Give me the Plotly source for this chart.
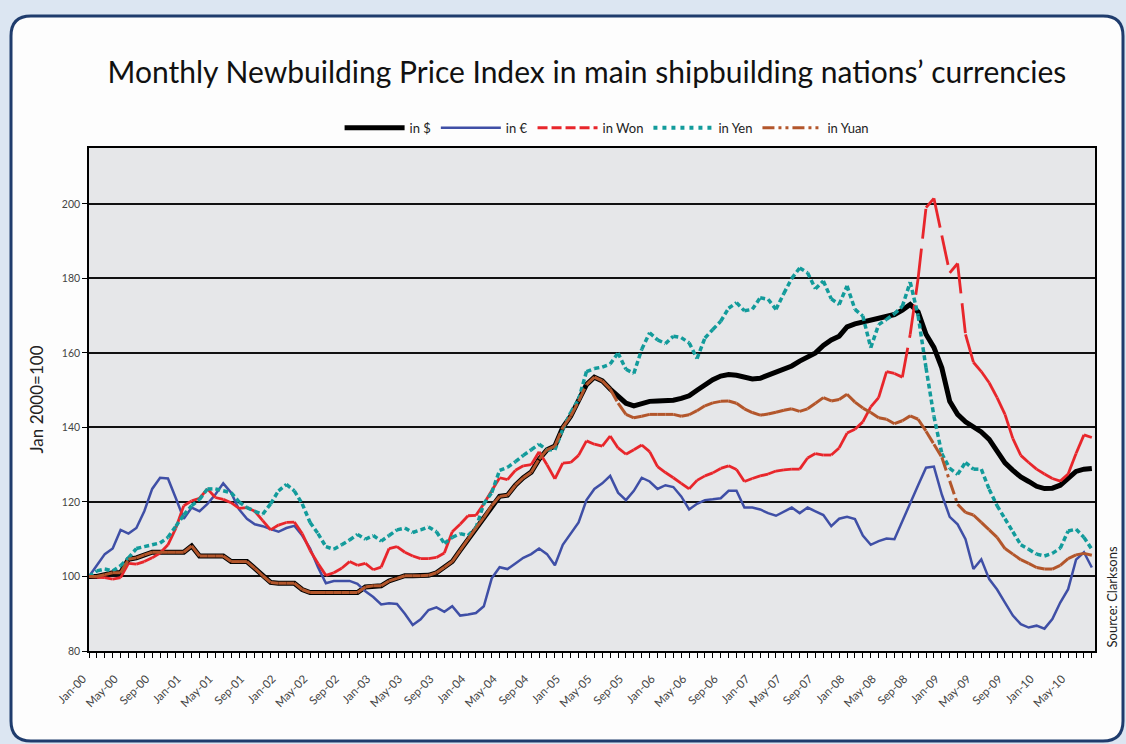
import plotly.graph_objects as go

# monthly index, Jan 2000 = 100 (Jan-00 .. Aug-10)
usd = [100, 100, 100.5, 101, 101, 104.6, 105, 105.8, 106.5, 106.5,
       106.5, 106.5, 106.5, 108.2, 105.5, 105.5, 105.5, 105.5, 104, 104,
       104, 102.2, 100.2, 98.4, 98.2, 98.2, 98.2, 96.5, 95.7, 95.7,
       95.7, 95.7, 95.7, 95.7, 95.7, 97.2, 97.5, 97.5, 98.8, 99.5,
       100.2, 100.2, 100.2, 100.3, 101, 102.5, 104, 107, 110, 113,
       115.8, 119, 121.5, 121.8, 124.5, 126.5, 128, 131.5, 134, 135,
       140, 143, 147, 151.5, 153.5, 152.5, 150.3, 148.5, 146.5, 145.8,
       146.5, 147, 147.1, 147.2, 147.3, 147.8, 148.5, 150, 151.5, 152.8,
       153.8, 154.2, 154, 153.5, 153, 153.2, 154, 154.7, 155.5, 156.5,
       157.8, 159, 160, 162, 163.5, 164.5, 167, 167.8, 168.3, 168.6,
       169, 169.5, 170.3, 171.5, 173, 171, 165, 161.5, 156, 147,
       143.5, 141.5, 140.2, 138.8, 136.8, 133.5, 130.5, 128.5, 126.7, 125.5,
       124.2, 123.6, 123.7, 124.5, 126.5, 128.2, 128.8, 129]

eur = [100, 103, 106, 107.5, 112.5, 111.5, 113, 117.5, 123.5, 126.5,
       126.3, 121, 115.5, 118.5, 117.5, 119.5, 122, 125, 122.5, 118,
       115.5, 114, 113.5, 112.7, 112, 113, 113.6, 111, 107.5, 102.5,
       98.2, 98.8, 98.8, 98.8, 98, 96, 94.5, 92.5, 92.8, 92.6,
       90, 87, 88.5, 91, 91.7, 90.5, 92, 89.5, 89.8, 90.2,
       92, 99.5, 102.5, 102, 103.5, 105, 106, 107.5, 106, 103,
       108.5, 111.5, 114.5, 120.5, 123.5, 125, 127, 122.5, 120.5, 123,
       126.5, 125.5, 123.5, 124.5, 124, 121.5, 118, 119.5, 120.5, 120.7,
       121, 123, 123, 118.5, 118.5, 118, 117, 116.3, 117.5, 118.5,
       117, 118.5, 117.5, 116.5, 113.5, 115.5, 116, 115.4, 111, 108.5,
       109.5, 110.2, 110, 115, 119.5, 124.5, 129.2, 129.5, 122, 116,
       114, 110, 102, 104.6, 99.3, 96.5, 93, 89.5, 87.2, 86.3,
       86.8, 86, 88.6, 93, 96.6, 104.5, 106.5, 102.4]

won = [100, 99.8, 99.7, 99.3, 99.7, 103.5, 103.3, 104, 105, 106.3,
       108.5, 113, 119, 120.3, 121, 123.5, 121.2, 120.7, 119.8, 118.3,
       118.5, 117.5, 115, 112.5, 113.8, 114.5, 114.6, 111.5, 107, 103.5,
       100.3, 101, 102.2, 104, 103, 103.5, 101.8, 102.5, 107.5, 108,
       106.5, 105.5, 104.8, 104.8, 105.1, 106.3, 112, 114, 116.3, 116.4,
       119.5, 123, 126.5, 126, 128.5, 129.7, 130, 133.5, 130, 126.2,
       130.4, 130.6, 132.5, 136.4, 135.5, 135, 137.7, 134.5, 132.8, 134,
       135.3, 133.5, 129.5, 127.9, 126.5, 125, 123.5, 125.8, 127, 127.8,
       129, 129.7, 128.7, 125.5, 126.3, 127, 127.5, 128.3, 128.6, 128.8,
       128.8, 131.8, 133, 132.6, 132.6, 134.5, 138.5, 139.5, 141.5, 145.5,
       148, 155, 154.5, 153.5, 165, 180, 199, 201.5, 191.5, 181.5,
       184, 165, 157.5, 155, 152, 148, 143.5, 137, 132.5, 130.6,
       128.8, 127.5, 126.3, 125.6, 127.5, 133, 138, 137.3]

yen = [100, 101.5, 102, 101.5, 102.9, 105, 107.5, 108, 108.5, 109,
       110.5, 113.5, 116.5, 119, 120.7, 123.5, 123.5, 123, 122.5, 120,
       118.5, 117.5, 116.7, 119.5, 123, 124.7, 123, 119.5, 114.5, 111.5,
       108, 107.3, 108.5, 109.8, 111.3, 110, 111, 109.5, 111, 112.5,
       113, 111.8, 112.5, 113.3, 112, 108.9, 110.5, 111.5, 111, 113,
       119.5, 122.5, 128.5, 129.3, 130.8, 132.5, 134, 135.5, 134, 134,
       139.5, 144, 147.5, 155, 155.8, 156.2, 157, 160, 155.6, 154.5,
       161, 165.4, 163.5, 162.5, 164.5, 164.1, 162.7, 158.5, 164, 166.3,
       168.5, 172, 173.5, 171.3, 171.7, 174.8, 174.4, 171.7, 176, 180,
       182.8, 181.5, 177.2, 179.3, 174.5, 173, 178, 171.7, 169.9, 161.4,
       167.6, 169, 170.5, 172.5, 179, 170, 156, 143, 133, 129,
       127.4, 130.6, 128.8, 128.8, 123.4, 119, 115.5, 112, 108.5, 107.3,
       106, 105.5, 106.2, 107.6, 112.2, 112.7, 110.5, 107.3]

yuan = [100, 100, 100.5, 101, 101, 104.6, 105, 105.8, 106.5, 106.5,
        106.5, 106.5, 106.5, 108.2, 105.5, 105.5, 105.5, 105.5, 104, 104,
        104, 102.2, 100.2, 98.4, 98.2, 98.2, 98.2, 96.5, 95.7, 95.7,
        95.7, 95.7, 95.7, 95.7, 95.7, 97.2, 97.5, 97.5, 98.8, 99.5,
        100.2, 100.2, 100.2, 100.3, 101, 102.5, 104, 107, 110, 113,
        115.8, 119, 121.5, 121.8, 124.5, 126.5, 128, 131.5, 134, 135,
        140, 143, 147, 151.5, 153.5, 152.5, 150.3, 146.5, 143.5, 142.6,
        143, 143.5, 143.5, 143.5, 143.5, 143, 143.4, 144.5, 145.8, 146.6,
        147, 147.1, 146.5, 145, 144, 143.3, 143.6, 144.1, 144.6, 145,
        144.3, 145, 146.5, 148, 147.1, 147.5, 148.9, 146.8, 145.2, 144,
        142.6, 142.2, 141, 141.8, 143.1, 142.2, 139, 135.5, 132, 125.6,
        119.4, 117.2, 116.5, 114.5, 112.5, 110.5, 107.5, 106, 104.5, 103.5,
        102.4, 102, 102, 103, 104.8, 105.8, 106.2, 105.7]

tick_labels = ["Jan-00", "May-00", "Sep-00", "Jan-01", "May-01", "Sep-01",
               "Jan-02", "May-02", "Sep-02", "Jan-03", "May-03", "Sep-03",
               "Jan-04", "May-04", "Sep-04", "Jan-05", "May-05", "Sep-05",
               "Jan-06", "May-06", "Sep-06", "Jan-07", "May-07", "Sep-07",
               "Jan-08", "May-08", "Sep-08", "Jan-09", "May-09", "Sep-09",
               "Jan-10", "May-10"]

x = list(range(len(usd)))
tick_pos = x[::4]

FONT = "Lato, 'Open Sans', sans-serif"


def segments(vals):
    # every month-to-month step as its own sub-path, so the dash pattern
    # restarts on each step (the way the original chart draws dashes)
    xs, ys = [], []
    for i in range(len(vals) - 1):
        xs += [i, i + 1, None]
        ys += [vals[i], vals[i + 1], None]
    return xs, ys


fig = go.Figure()

fig.add_trace(go.Scatter(x=x, y=usd, name="in $", mode="lines",
                         line=dict(color="#000000", width=5)))
fig.add_trace(go.Scatter(x=x, y=eur, name="in €", mode="lines",
                         line=dict(color="#3f4fa6", width=2.5)))

wx, wy = segments(won)
fig.add_trace(go.Scatter(x=wx, y=wy, mode="lines", showlegend=False,
                         line=dict(color="#e8262b", width=2.8, dash="30px,10px")))
fig.add_trace(go.Scatter(x=[None], y=[None], name="in Won", mode="lines",
                         line=dict(color="#e8262b", width=3, dash="10px,4px")))

yx, yy = segments(yen)
fig.add_trace(go.Scatter(x=yx, y=yy, mode="lines", showlegend=False,
                         line=dict(color="#129b9b", width=3.5, dash="5px,3px")))
fig.add_trace(go.Scatter(x=[None], y=[None], name="in Yen", mode="lines",
                         line=dict(color="#129b9b", width=4, dash="4px,5px")))

cx, cy = segments(yuan)
fig.add_trace(go.Scatter(x=cx, y=cy, mode="lines", showlegend=False,
                         line=dict(color="#b3562b", width=3,
                                   dash="14px,4px,3px,4px,3px,4px")))
fig.add_trace(go.Scatter(x=[None], y=[None], name="in Yuan", mode="lines",
                         line=dict(color="#b3562b", width=3,
                                   dash="12px,4px,3px,4px,3px,4px")))

# pixel -> paper helpers for the frame decoration
L, R, T, B = 89, 1095, 148, 651


def px(v):
    return (v - L) / (R - L)


def py(v):
    return (B - v) / (B - T)


x0, x1, y0, y1, r = 11, 1123, 16, 741, 20
frame = (f"M {px(x0 + r)},{py(y0)} L {px(x1 - r)},{py(y0)} "
         f"Q {px(x1)},{py(y0)} {px(x1)},{py(y0 + r)} "
         f"L {px(x1)},{py(y1 - r)} Q {px(x1)},{py(y1)} {px(x1 - r)},{py(y1)} "
         f"L {px(x0 + r)},{py(y1)} Q {px(x0)},{py(y1)} {px(x0)},{py(y1 - r)} "
         f"L {px(x0)},{py(y0 + r)} Q {px(x0)},{py(y0)} {px(x0 + r)},{py(y0)} Z")

fig.update_layout(
    width=1126, height=744,
    margin=dict(l=L, r=1126 - R, t=T, b=744 - B),
    paper_bgcolor="#dce6f2",
    plot_bgcolor="rgba(0,0,0,0)",
    font=dict(family=FONT, color="#222222"),
    title=dict(text="Monthly Newbuilding Price Index in main shipbuilding nations’ currencies",
               x=0.495, xref="paper", xanchor="center",
               y=1 - 72 / 744, yanchor="middle",
               font=dict(size=30, color="#111111", family=FONT)),
    legend=dict(orientation="h", x=0.515, xanchor="center", y=1.04, yanchor="middle",
                font=dict(size=13, color="#222222"), bgcolor="rgba(0,0,0,0)",
                itemwidth=60),
    showlegend=True,
    shapes=[
        dict(type="path", path=frame, xref="paper", yref="paper", layer="below",
             fillcolor="#fdfdfd", line=dict(color="#1f3c6d", width=3)),
        dict(type="rect", x0=0, x1=1, y0=0, y1=1, xref="paper", yref="paper",
             layer="below", fillcolor="#e6e7e9", line=dict(width=0)),
    ],
    annotations=[
        dict(text="Source: Clarksons", textangle=-90, x=px(1111), y=py(650),
             xref="paper", yref="paper", xanchor="center", yanchor="bottom",
             showarrow=False, font=dict(size=13, color="#222222", family=FONT)),
    ],
)

fig.update_xaxes(
    range=[0, 127.4], tickmode="array", tickvals=tick_pos, ticktext=tick_labels,
    tickangle=-45, ticks="outside", ticklen=5, tickcolor="#000000",
    minor=dict(dtick=1, tick0=0, ticks="outside", ticklen=5, tickcolor="#000000"),
    tickfont=dict(size=11.5, color="#444444"),
    ticklabelstandoff=10, ticklabelshift=-6,
    showgrid=False, zeroline=False,
    showline=True, linecolor="#000000", linewidth=1.5, mirror=True,
)
fig.update_yaxes(
    range=[80, 215], tickmode="array", tickvals=[80, 100, 120, 140, 160, 180, 200],
    ticks="outside", ticklen=5, tickcolor="#000000",
    tickfont=dict(size=10.5, color="#444444"),
    showgrid=True, gridcolor="#111111", gridwidth=1.5, zeroline=False,
    showline=True, linecolor="#000000", linewidth=1.5, mirror=True,
    title=dict(text="Jan 2000=100", font=dict(size=17, color="#222222"), standoff=14),
)

# the page's default body margin would push the 1126x744 figure off the window
fig.write_html("out.html", config={"displayModeBar": False},
               post_script="document.body.style.margin = '0px';")
